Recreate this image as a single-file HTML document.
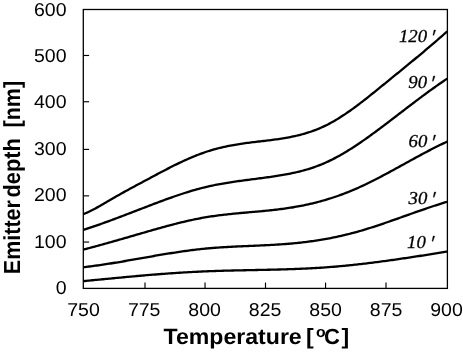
<!DOCTYPE html>
<html><head><meta charset="utf-8"><style>
html,body{margin:0;padding:0;background:#fff;width:463px;height:352px;overflow:hidden}
svg{display:block;filter:grayscale(1);text-rendering:geometricPrecision}
.t{font-family:"Liberation Sans",sans-serif;font-size:18.6px;fill:#000}
.b{font-family:"Liberation Sans",sans-serif;font-weight:bold;fill:#000}
.i{font-family:"Liberation Serif",serif;font-style:italic;font-size:18.2px;fill:#000;stroke:#000;stroke-width:0.3px}
</style></head><body>
<svg width="463" height="352" viewBox="0 0 463 352" xmlns="http://www.w3.org/2000/svg">
<g fill="none" stroke="#000" stroke-width="2.3" stroke-linejoin="round">
<path d="M83.4,214.16 84.9,213.54 86.4,212.89 87.9,212.20 89.4,211.49 90.9,210.76 92.4,210.00 93.9,209.23 95.4,208.43 96.9,207.62 98.4,206.79 99.9,205.95 101.4,205.09 102.9,204.23 104.4,203.36 105.9,202.49 107.4,201.61 108.9,200.73 110.4,199.84 111.9,198.96 113.4,198.09 114.9,197.22 116.4,196.35 117.9,195.50 119.4,194.65 120.9,193.80 122.4,192.96 123.9,192.13 125.4,191.30 126.9,190.48 128.4,189.66 129.9,188.85 131.4,188.04 132.9,187.23 134.4,186.42 135.9,185.61 137.4,184.81 138.9,184.01 140.4,183.21 141.9,182.41 143.4,181.60 144.9,180.80 146.4,180.00 147.9,179.20 149.4,178.39 150.9,177.59 152.4,176.78 153.9,175.98 155.4,175.18 156.9,174.38 158.4,173.59 159.9,172.79 161.4,172.00 162.9,171.21 164.4,170.43 165.9,169.65 167.4,168.88 168.9,168.11 170.4,167.34 171.9,166.58 173.4,165.83 174.9,165.09 176.4,164.35 177.9,163.62 179.4,162.90 180.9,162.19 182.4,161.48 183.9,160.79 185.4,160.10 186.9,159.43 188.4,158.76 189.9,158.11 191.4,157.47 192.9,156.84 194.4,156.22 195.9,155.62 197.4,155.03 198.9,154.45 200.4,153.88 201.9,153.33 203.4,152.80 204.9,152.28 206.4,151.77 207.9,151.28 209.4,150.81 210.9,150.35 212.4,149.91 213.9,149.47 215.4,149.06 216.9,148.65 218.4,148.26 219.9,147.89 221.4,147.52 222.9,147.17 224.4,146.83 225.9,146.51 227.4,146.19 228.9,145.89 230.4,145.59 231.9,145.31 233.4,145.04 234.9,144.77 236.4,144.52 237.9,144.28 239.4,144.04 240.9,143.82 242.4,143.60 243.9,143.38 245.4,143.18 246.9,142.98 248.4,142.78 249.9,142.59 251.4,142.41 252.9,142.22 254.4,142.04 255.9,141.87 257.4,141.69 258.9,141.51 260.4,141.34 261.9,141.16 263.4,140.99 264.9,140.81 266.4,140.63 267.9,140.45 269.4,140.27 270.9,140.08 272.4,139.88 273.9,139.69 275.4,139.48 276.9,139.28 278.4,139.06 279.9,138.84 281.4,138.61 282.9,138.37 284.4,138.12 285.9,137.86 287.4,137.60 288.9,137.32 290.4,137.03 291.9,136.73 293.4,136.42 294.9,136.09 296.4,135.75 297.9,135.39 299.4,135.03 300.9,134.64 302.4,134.24 303.9,133.82 305.4,133.39 306.9,132.94 308.4,132.47 309.9,131.98 311.4,131.47 312.9,130.94 314.4,130.39 315.9,129.82 317.4,129.23 318.9,128.61 320.4,127.97 321.9,127.31 323.4,126.63 324.9,125.91 326.4,125.18 327.9,124.42 329.4,123.63 330.9,122.82 332.4,121.99 333.9,121.14 335.4,120.26 336.9,119.37 338.4,118.45 339.9,117.52 341.4,116.56 342.9,115.59 344.4,114.60 345.9,113.59 347.4,112.56 348.9,111.52 350.4,110.47 351.9,109.40 353.4,108.32 354.9,107.22 356.4,106.11 357.9,104.99 359.4,103.86 360.9,102.71 362.4,101.56 363.9,100.40 365.4,99.23 366.9,98.05 368.4,96.86 369.9,95.67 371.4,94.47 372.9,93.27 374.4,92.06 375.9,90.85 377.4,89.63 378.9,88.41 380.4,87.19 381.9,85.97 383.4,84.74 384.9,83.52 386.4,82.29 387.9,81.07 389.4,79.85 390.9,78.63 392.4,77.41 393.9,76.18 395.4,74.96 396.9,73.74 398.4,72.52 399.9,71.30 401.4,70.07 402.9,68.85 404.4,67.62 405.9,66.40 407.4,65.17 408.9,63.94 410.4,62.71 411.9,61.47 413.4,60.24 414.9,59.00 416.4,57.76 417.9,56.51 419.4,55.27 420.9,54.02 422.4,52.76 423.9,51.51 425.4,50.24 426.9,48.98 428.4,47.71 429.9,46.44 431.4,45.16 432.9,43.88 434.4,42.59 435.9,41.30 437.4,40.00 438.9,38.70 440.4,37.39 441.9,36.08 443.4,34.76 444.9,33.43 446.4,32.10 447.2,31.39"/>
<path d="M83.4,229.91 84.9,229.42 86.4,228.93 87.9,228.43 89.4,227.93 90.9,227.43 92.4,226.92 93.9,226.40 95.4,225.88 96.9,225.36 98.4,224.84 99.9,224.31 101.4,223.77 102.9,223.24 104.4,222.70 105.9,222.16 107.4,221.61 108.9,221.06 110.4,220.51 111.9,219.96 113.4,219.40 114.9,218.84 116.4,218.28 117.9,217.72 119.4,217.15 120.9,216.59 122.4,216.02 123.9,215.45 125.4,214.88 126.9,214.30 128.4,213.73 129.9,213.16 131.4,212.58 132.9,212.00 134.4,211.43 135.9,210.85 137.4,210.27 138.9,209.69 140.4,209.12 141.9,208.54 143.4,207.96 144.9,207.38 146.4,206.81 147.9,206.23 149.4,205.65 150.9,205.08 152.4,204.51 153.9,203.93 155.4,203.37 156.9,202.80 158.4,202.23 159.9,201.67 161.4,201.11 162.9,200.56 164.4,200.00 165.9,199.45 167.4,198.91 168.9,198.37 170.4,197.83 171.9,197.30 173.4,196.77 174.9,196.25 176.4,195.73 177.9,195.22 179.4,194.72 180.9,194.22 182.4,193.72 183.9,193.24 185.4,192.76 186.9,192.29 188.4,191.82 189.9,191.36 191.4,190.91 192.9,190.47 194.4,190.04 195.9,189.61 197.4,189.20 198.9,188.79 200.4,188.39 201.9,188.00 203.4,187.63 204.9,187.26 206.4,186.90 207.9,186.55 209.4,186.21 210.9,185.89 212.4,185.57 213.9,185.25 215.4,184.95 216.9,184.66 218.4,184.37 219.9,184.09 221.4,183.82 222.9,183.56 224.4,183.30 225.9,183.04 227.4,182.80 228.9,182.56 230.4,182.32 231.9,182.09 233.4,181.87 234.9,181.65 236.4,181.43 237.9,181.21 239.4,181.00 240.9,180.80 242.4,180.59 243.9,180.39 245.4,180.19 246.9,180.00 248.4,179.80 249.9,179.60 251.4,179.41 252.9,179.22 254.4,179.02 255.9,178.83 257.4,178.64 258.9,178.44 260.4,178.25 261.9,178.05 263.4,177.86 264.9,177.66 266.4,177.45 267.9,177.25 269.4,177.04 270.9,176.83 272.4,176.62 273.9,176.40 275.4,176.17 276.9,175.94 278.4,175.71 279.9,175.46 281.4,175.21 282.9,174.96 284.4,174.69 285.9,174.42 287.4,174.14 288.9,173.85 290.4,173.55 291.9,173.24 293.4,172.92 294.9,172.59 296.4,172.25 297.9,171.89 299.4,171.52 300.9,171.14 302.4,170.75 303.9,170.35 305.4,169.92 306.9,169.49 308.4,169.04 309.9,168.57 311.4,168.09 312.9,167.59 314.4,167.07 315.9,166.54 317.4,165.99 318.9,165.42 320.4,164.83 321.9,164.22 323.4,163.60 324.9,162.95 326.4,162.28 327.9,161.59 329.4,160.88 330.9,160.16 332.4,159.41 333.9,158.65 335.4,157.86 336.9,157.06 338.4,156.24 339.9,155.41 341.4,154.56 342.9,153.69 344.4,152.81 345.9,151.91 347.4,151.00 348.9,150.07 350.4,149.13 351.9,148.18 353.4,147.21 354.9,146.23 356.4,145.24 357.9,144.24 359.4,143.23 360.9,142.20 362.4,141.17 363.9,140.13 365.4,139.07 366.9,138.01 368.4,136.94 369.9,135.86 371.4,134.78 372.9,133.69 374.4,132.59 375.9,131.48 377.4,130.37 378.9,129.25 380.4,128.13 381.9,127.00 383.4,125.87 384.9,124.74 386.4,123.60 387.9,122.46 389.4,121.32 390.9,120.18 392.4,119.03 393.9,117.88 395.4,116.73 396.9,115.58 398.4,114.43 399.9,113.28 401.4,112.13 402.9,110.98 404.4,109.83 405.9,108.68 407.4,107.54 408.9,106.39 410.4,105.25 411.9,104.10 413.4,102.96 414.9,101.83 416.4,100.69 417.9,99.56 419.4,98.44 420.9,97.32 422.4,96.20 423.9,95.08 425.4,93.98 426.9,92.87 428.4,91.78 429.9,90.68 431.4,89.60 432.9,88.52 434.4,87.45 435.9,86.38 437.4,85.33 438.9,84.28 440.4,83.24 441.9,82.20 443.4,81.18 444.9,80.16 446.4,79.16 447.2,78.63"/>
<path d="M83.4,249.57 84.9,249.19 86.4,248.79 87.9,248.40 89.4,248.00 90.9,247.61 92.4,247.20 93.9,246.80 95.4,246.40 96.9,245.99 98.4,245.58 99.9,245.17 101.4,244.75 102.9,244.34 104.4,243.92 105.9,243.50 107.4,243.08 108.9,242.66 110.4,242.24 111.9,241.81 113.4,241.39 114.9,240.96 116.4,240.53 117.9,240.11 119.4,239.68 120.9,239.25 122.4,238.81 123.9,238.38 125.4,237.95 126.9,237.52 128.4,237.08 129.9,236.65 131.4,236.21 132.9,235.78 134.4,235.35 135.9,234.91 137.4,234.48 138.9,234.04 140.4,233.61 141.9,233.17 143.4,232.74 144.9,232.30 146.4,231.87 147.9,231.44 149.4,231.01 150.9,230.58 152.4,230.15 153.9,229.72 155.4,229.29 156.9,228.87 158.4,228.45 159.9,228.03 161.4,227.61 162.9,227.19 164.4,226.78 165.9,226.37 167.4,225.97 168.9,225.56 170.4,225.16 171.9,224.77 173.4,224.38 174.9,223.99 176.4,223.61 177.9,223.23 179.4,222.86 180.9,222.49 182.4,222.13 183.9,221.77 185.4,221.42 186.9,221.07 188.4,220.73 189.9,220.40 191.4,220.07 192.9,219.75 194.4,219.43 195.9,219.12 197.4,218.82 198.9,218.53 200.4,218.25 201.9,217.97 203.4,217.70 204.9,217.44 206.4,217.18 207.9,216.94 209.4,216.70 210.9,216.47 212.4,216.25 213.9,216.03 215.4,215.82 216.9,215.62 218.4,215.42 219.9,215.23 221.4,215.05 222.9,214.87 224.4,214.69 225.9,214.52 227.4,214.36 228.9,214.20 230.4,214.04 231.9,213.88 233.4,213.73 234.9,213.59 236.4,213.44 237.9,213.30 239.4,213.16 240.9,213.02 242.4,212.88 243.9,212.75 245.4,212.62 246.9,212.48 248.4,212.35 249.9,212.22 251.4,212.08 252.9,211.95 254.4,211.82 255.9,211.69 257.4,211.55 258.9,211.41 260.4,211.28 261.9,211.14 263.4,210.99 264.9,210.85 266.4,210.70 267.9,210.55 269.4,210.40 270.9,210.24 272.4,210.08 273.9,209.91 275.4,209.74 276.9,209.57 278.4,209.39 279.9,209.20 281.4,209.01 282.9,208.81 284.4,208.61 285.9,208.40 287.4,208.18 288.9,207.96 290.4,207.73 291.9,207.49 293.4,207.25 294.9,206.99 296.4,206.73 297.9,206.46 299.4,206.18 300.9,205.89 302.4,205.60 303.9,205.29 305.4,204.98 306.9,204.66 308.4,204.32 309.9,203.98 311.4,203.63 312.9,203.28 314.4,202.91 315.9,202.53 317.4,202.14 318.9,201.75 320.4,201.34 321.9,200.93 323.4,200.50 324.9,200.07 326.4,199.62 327.9,199.17 329.4,198.71 330.9,198.23 332.4,197.75 333.9,197.26 335.4,196.75 336.9,196.24 338.4,195.72 339.9,195.18 341.4,194.64 342.9,194.08 344.4,193.52 345.9,192.94 347.4,192.35 348.9,191.75 350.4,191.15 351.9,190.53 353.4,189.90 354.9,189.25 356.4,188.60 357.9,187.94 359.4,187.27 360.9,186.58 362.4,185.89 363.9,185.19 365.4,184.47 366.9,183.75 368.4,183.02 369.9,182.29 371.4,181.54 372.9,180.79 374.4,180.03 375.9,179.27 377.4,178.49 378.9,177.72 380.4,176.93 381.9,176.14 383.4,175.35 384.9,174.55 386.4,173.75 387.9,172.94 389.4,172.13 390.9,171.32 392.4,170.50 393.9,169.68 395.4,168.86 396.9,168.03 398.4,167.21 399.9,166.38 401.4,165.55 402.9,164.73 404.4,163.90 405.9,163.07 407.4,162.24 408.9,161.42 410.4,160.59 411.9,159.77 413.4,158.94 414.9,158.12 416.4,157.30 417.9,156.49 419.4,155.68 420.9,154.87 422.4,154.06 423.9,153.26 425.4,152.47 426.9,151.68 428.4,150.89 429.9,150.11 431.4,149.33 432.9,148.57 434.4,147.80 435.9,147.05 437.4,146.30 438.9,145.56 440.4,144.83 441.9,144.10 443.4,143.39 444.9,142.68 446.4,141.98 447.2,141.61"/>
<path d="M83.4,267.22 84.9,267.04 86.4,266.87 87.9,266.69 89.4,266.50 90.9,266.31 92.4,266.11 93.9,265.91 95.4,265.71 96.9,265.50 98.4,265.29 99.9,265.08 101.4,264.86 102.9,264.64 104.4,264.41 105.9,264.19 107.4,263.96 108.9,263.72 110.4,263.49 111.9,263.25 113.4,263.00 114.9,262.76 116.4,262.51 117.9,262.27 119.4,262.01 120.9,261.76 122.4,261.51 123.9,261.25 125.4,261.00 126.9,260.74 128.4,260.48 129.9,260.22 131.4,259.96 132.9,259.69 134.4,259.43 135.9,259.17 137.4,258.90 138.9,258.64 140.4,258.37 141.9,258.11 143.4,257.84 144.9,257.58 146.4,257.31 147.9,257.05 149.4,256.79 150.9,256.53 152.4,256.26 153.9,256.00 155.4,255.74 156.9,255.49 158.4,255.23 159.9,254.97 161.4,254.72 162.9,254.47 164.4,254.22 165.9,253.97 167.4,253.73 168.9,253.48 170.4,253.24 171.9,253.00 173.4,252.77 174.9,252.53 176.4,252.30 177.9,252.08 179.4,251.85 180.9,251.63 182.4,251.42 183.9,251.20 185.4,250.99 186.9,250.79 188.4,250.59 189.9,250.39 191.4,250.19 192.9,250.01 194.4,249.82 195.9,249.64 197.4,249.46 198.9,249.29 200.4,249.13 201.9,248.97 203.4,248.81 204.9,248.66 206.4,248.52 207.9,248.38 209.4,248.25 210.9,248.12 212.4,247.99 213.9,247.87 215.4,247.76 216.9,247.65 218.4,247.54 219.9,247.44 221.4,247.34 222.9,247.24 224.4,247.15 225.9,247.06 227.4,246.98 228.9,246.89 230.4,246.81 231.9,246.74 233.4,246.66 234.9,246.59 236.4,246.51 237.9,246.44 239.4,246.37 240.9,246.31 242.4,246.24 243.9,246.17 245.4,246.11 246.9,246.05 248.4,245.98 249.9,245.92 251.4,245.86 252.9,245.79 254.4,245.73 255.9,245.66 257.4,245.60 258.9,245.53 260.4,245.46 261.9,245.40 263.4,245.33 264.9,245.25 266.4,245.18 267.9,245.11 269.4,245.03 270.9,244.95 272.4,244.87 273.9,244.78 275.4,244.69 276.9,244.60 278.4,244.51 279.9,244.41 281.4,244.31 282.9,244.20 284.4,244.10 285.9,243.98 287.4,243.86 288.9,243.74 290.4,243.61 291.9,243.48 293.4,243.35 294.9,243.20 296.4,243.06 297.9,242.90 299.4,242.74 300.9,242.58 302.4,242.41 303.9,242.23 305.4,242.05 306.9,241.86 308.4,241.67 309.9,241.47 311.4,241.26 312.9,241.05 314.4,240.83 315.9,240.61 317.4,240.38 318.9,240.14 320.4,239.90 321.9,239.65 323.4,239.39 324.9,239.13 326.4,238.86 327.9,238.59 329.4,238.30 330.9,238.02 332.4,237.72 333.9,237.42 335.4,237.11 336.9,236.79 338.4,236.47 339.9,236.14 341.4,235.80 342.9,235.45 344.4,235.10 345.9,234.74 347.4,234.37 348.9,234.00 350.4,233.62 351.9,233.23 353.4,232.83 354.9,232.43 356.4,232.02 357.9,231.60 359.4,231.17 360.9,230.74 362.4,230.29 363.9,229.85 365.4,229.39 366.9,228.93 368.4,228.47 369.9,228.00 371.4,227.52 372.9,227.04 374.4,226.55 375.9,226.06 377.4,225.57 378.9,225.07 380.4,224.56 381.9,224.06 383.4,223.55 384.9,223.03 386.4,222.52 387.9,222.00 389.4,221.47 390.9,220.95 392.4,220.42 393.9,219.90 395.4,219.37 396.9,218.83 398.4,218.30 399.9,217.77 401.4,217.23 402.9,216.70 404.4,216.17 405.9,215.63 407.4,215.10 408.9,214.56 410.4,214.03 411.9,213.50 413.4,212.97 414.9,212.44 416.4,211.91 417.9,211.38 419.4,210.86 420.9,210.34 422.4,209.82 423.9,209.30 425.4,208.79 426.9,208.28 428.4,207.77 429.9,207.27 431.4,206.77 432.9,206.27 434.4,205.78 435.9,205.29 437.4,204.80 438.9,204.32 440.4,203.84 441.9,203.37 443.4,202.91 444.9,202.44 446.4,201.99 447.2,201.75"/>
<path d="M83.4,281.12 84.9,280.98 86.4,280.84 87.9,280.70 89.4,280.56 90.9,280.41 92.4,280.27 93.9,280.13 95.4,279.98 96.9,279.84 98.4,279.69 99.9,279.55 101.4,279.41 102.9,279.26 104.4,279.12 105.9,278.97 107.4,278.83 108.9,278.68 110.4,278.54 111.9,278.39 113.4,278.25 114.9,278.11 116.4,277.96 117.9,277.82 119.4,277.68 120.9,277.53 122.4,277.39 123.9,277.25 125.4,277.11 126.9,276.97 128.4,276.83 129.9,276.69 131.4,276.55 132.9,276.42 134.4,276.28 135.9,276.14 137.4,276.01 138.9,275.88 140.4,275.74 141.9,275.61 143.4,275.48 144.9,275.35 146.4,275.22 147.9,275.10 149.4,274.97 150.9,274.84 152.4,274.72 153.9,274.60 155.4,274.48 156.9,274.36 158.4,274.24 159.9,274.12 161.4,274.01 162.9,273.90 164.4,273.78 165.9,273.67 167.4,273.56 168.9,273.46 170.4,273.35 171.9,273.24 173.4,273.14 174.9,273.04 176.4,272.94 177.9,272.84 179.4,272.75 180.9,272.65 182.4,272.56 183.9,272.47 185.4,272.38 186.9,272.29 188.4,272.20 189.9,272.12 191.4,272.04 192.9,271.96 194.4,271.88 195.9,271.80 197.4,271.73 198.9,271.65 200.4,271.58 201.9,271.52 203.4,271.45 204.9,271.38 206.4,271.32 207.9,271.26 209.4,271.20 210.9,271.15 212.4,271.09 213.9,271.04 215.4,270.99 216.9,270.94 218.4,270.89 219.9,270.85 221.4,270.80 222.9,270.76 224.4,270.72 225.9,270.68 227.4,270.64 228.9,270.60 230.4,270.56 231.9,270.52 233.4,270.49 234.9,270.45 236.4,270.42 237.9,270.39 239.4,270.35 240.9,270.32 242.4,270.29 243.9,270.26 245.4,270.23 246.9,270.20 248.4,270.17 249.9,270.14 251.4,270.11 252.9,270.08 254.4,270.05 255.9,270.02 257.4,269.99 258.9,269.96 260.4,269.93 261.9,269.90 263.4,269.87 264.9,269.83 266.4,269.80 267.9,269.77 269.4,269.74 270.9,269.70 272.4,269.67 273.9,269.63 275.4,269.59 276.9,269.56 278.4,269.52 279.9,269.48 281.4,269.44 282.9,269.39 284.4,269.35 285.9,269.30 287.4,269.26 288.9,269.21 290.4,269.16 291.9,269.11 293.4,269.06 294.9,269.00 296.4,268.94 297.9,268.89 299.4,268.82 300.9,268.76 302.4,268.70 303.9,268.63 305.4,268.56 306.9,268.49 308.4,268.41 309.9,268.34 311.4,268.26 312.9,268.18 314.4,268.09 315.9,268.01 317.4,267.92 318.9,267.82 320.4,267.73 321.9,267.63 323.4,267.53 324.9,267.42 326.4,267.32 327.9,267.21 329.4,267.09 330.9,266.97 332.4,266.85 333.9,266.73 335.4,266.60 336.9,266.48 338.4,266.34 339.9,266.21 341.4,266.07 342.9,265.93 344.4,265.79 345.9,265.64 347.4,265.49 348.9,265.34 350.4,265.19 351.9,265.03 353.4,264.87 354.9,264.71 356.4,264.55 357.9,264.38 359.4,264.22 360.9,264.05 362.4,263.87 363.9,263.70 365.4,263.52 366.9,263.34 368.4,263.16 369.9,262.98 371.4,262.79 372.9,262.60 374.4,262.41 375.9,262.22 377.4,262.03 378.9,261.83 380.4,261.63 381.9,261.44 383.4,261.23 384.9,261.03 386.4,260.83 387.9,260.62 389.4,260.41 390.9,260.21 392.4,260.00 393.9,259.78 395.4,259.57 396.9,259.36 398.4,259.14 399.9,258.92 401.4,258.70 402.9,258.48 404.4,258.26 405.9,258.04 407.4,257.82 408.9,257.59 410.4,257.37 411.9,257.14 413.4,256.91 414.9,256.68 416.4,256.45 417.9,256.22 419.4,255.99 420.9,255.76 422.4,255.53 423.9,255.29 425.4,255.06 426.9,254.83 428.4,254.59 429.9,254.35 431.4,254.12 432.9,253.88 434.4,253.64 435.9,253.41 437.4,253.17 438.9,252.93 440.4,252.69 441.9,252.45 443.4,252.21 444.9,251.97 446.4,251.73 447.2,251.61"/>
</g>
<g stroke="#000" stroke-width="1.15" fill="none"><line x1="83.3" y1="242.05" x2="89.10" y2="242.05"/><line x1="83.3" y1="195.86" x2="89.10" y2="195.86"/><line x1="83.3" y1="149.40" x2="89.10" y2="149.40"/><line x1="83.3" y1="101.75" x2="89.10" y2="101.75"/><line x1="83.3" y1="55.48" x2="89.10" y2="55.48"/><line x1="145.0" y1="288.4" x2="145.0" y2="282.60"/><line x1="205.03" y1="288.4" x2="205.03" y2="282.60"/><line x1="265.5" y1="288.4" x2="265.5" y2="282.60"/><line x1="325.55" y1="288.4" x2="325.55" y2="282.60"/><line x1="386.0" y1="288.4" x2="386.0" y2="282.60"/></g>
<rect x="83.3" y="9.5" width="364.10" height="278.90" fill="none" stroke="#000" stroke-width="1.3"/>
<g class="t"><text transform="translate(66.5,294.40) scale(1.05,1)" text-anchor="end">0</text><text transform="translate(66.5,247.92) scale(1.05,1)" text-anchor="end">100</text><text transform="translate(66.5,201.43) scale(1.05,1)" text-anchor="end">200</text><text transform="translate(66.5,154.95) scale(1.05,1)" text-anchor="end">300</text><text transform="translate(66.5,108.47) scale(1.05,1)" text-anchor="end">400</text><text transform="translate(66.5,61.98) scale(1.05,1)" text-anchor="end">500</text><text transform="translate(66.5,15.50) scale(1.05,1)" text-anchor="end">600</text><text transform="translate(83.50,316.4) scale(1.05,1)" text-anchor="middle">750</text><text transform="translate(144.20,316.4) scale(1.05,1)" text-anchor="middle">775</text><text transform="translate(204.60,316.4) scale(1.05,1)" text-anchor="middle">800</text><text transform="translate(265.10,316.4) scale(1.05,1)" text-anchor="middle">825</text><text transform="translate(325.60,316.4) scale(1.05,1)" text-anchor="middle">850</text><text transform="translate(386.10,316.4) scale(1.05,1)" text-anchor="middle">875</text><text transform="translate(446.50,316.4) scale(1.05,1)" text-anchor="middle">900</text></g>
<g class="i"><text transform="translate(427.00,41.6) scale(1.03,1)" text-anchor="end">120</text><text transform="translate(427.00,87.6) scale(1.03,1)" text-anchor="end">90</text><text transform="translate(427.35,146.6) scale(1.03,1)" text-anchor="end">60</text><text transform="translate(427.35,203.6) scale(1.03,1)" text-anchor="end">30</text><text transform="translate(425.85,247.6) scale(1.03,1)" text-anchor="end">10</text><path d="M434.00,29.90 L435.70,30.10 L433.90,35.30 L432.90,35.20 Z"/><path d="M433.40,75.90 L435.10,76.10 L433.30,81.30 L432.30,81.20 Z"/><path d="M434.10,134.90 L435.80,135.10 L434.00,140.30 L433.00,140.20 Z"/><path d="M434.30,191.90 L436.00,192.10 L434.20,197.30 L433.20,197.20 Z"/><path d="M433.10,235.90 L434.80,236.10 L433.00,241.30 L432.00,241.20 Z"/></g>
<g class="b">
<text font-size="22" transform="translate(163.5,343.7) scale(1.05,1)">Temperature</text>
<text font-size="22" transform="translate(306.0,343.7) scale(1.05,1)">[</text>
<text font-size="15.0" transform="translate(316.0,336.7) scale(1.05,1)">o</text>
<text font-size="22" transform="translate(324.1,343.7) scale(1.0,1)">C</text>
<text font-size="22" transform="translate(341.5,343.7) scale(1.05,1)">]</text>
<text font-size="21.5" transform="translate(19.9,274.2) scale(1.08,1) rotate(-90)">Emitter</text>
<text font-size="21.8" transform="translate(19.9,197.55) scale(1.08,1) rotate(-90)">depth</text>
<text font-size="21.5" transform="translate(19.9,127.5) scale(1.08,1) rotate(-90)">[nm]</text>
</g>
</svg>
</body></html>
